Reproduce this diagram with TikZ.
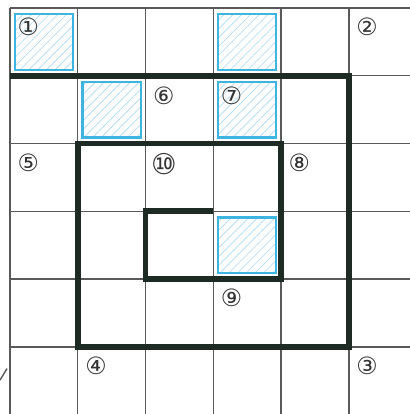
\documentclass[tikz,border=0pt]{standalone}
\usepackage{fontspec}
\newfontfamily\circfont{DejaVu Sans}
\usetikzlibrary{patterns.meta}
\definecolor{hatchblue}{HTML}{B9DFF2}
\definecolor{edgeblue}{HTML}{3DB5E0}
\definecolor{wallgreen}{HTML}{1E2B25}

\begin{document}
\begin{tikzpicture}[x=1cm, y=-1cm,
    gridline/.style = {draw=black!65, line width=0.6pt},
    wall/.style = {draw=wallgreen, line width=2.4pt, line join=miter},
    shaded/.style = {draw=edgeblue, line width=0.9pt, pattern={Lines[angle=45, distance=2.6pt, line width=0.35pt]}, pattern color=hatchblue},
    every node/.style = {font=\circfont\fontsize{10}{10}\selectfont, inner sep=0pt, text=black!80}]

        \useasboundingbox (-0.147,-0.118) rectangle (5.90,5.99);

        \foreach \c/\r in {0/0, 3/0, 1/1, 3/1, 3/3}
            \draw[shaded] (\c+0.07,\r+0.09) rectangle (\c+0.93,\r+0.91);

        \foreach \i in {0,...,5} {
            \draw[gridline] (\i,0) -- (\i,5.99);
            \draw[gridline] (0,\i) -- (5.90,\i);
        }

        \draw[wall] (0,1) -- (5,1) -- (5,5) -- (1,5) -- (1,2) -- (4,2) -- (4,4) -- (2,4) -- (2,3) -- (3,3);

        \node (n1) at (0.27,0.28) {①};
        \node (n2) at (5.27,0.28) {②};
        \node (n3) at (5.27,5.28) {③};
        \node (n4) at (1.27,5.28) {④};
        \node (n5) at (0.27,2.28) {⑤};
        \node (n6) at (2.27,1.30) {⑥};
        \node (n7) at (3.27,1.30) {⑦};
        \node (n8) at (4.27,2.28) {⑧};
        \node (n9) at (3.27,4.28) {⑨};
        \node[font=\circfont\fontsize{12}{12}\selectfont] (n10) at (2.27,2.30) {⑩};

        \draw[gridline] (-0.147,5.49) -- (-0.044,5.32);

    \end{tikzpicture}
\end{document}
